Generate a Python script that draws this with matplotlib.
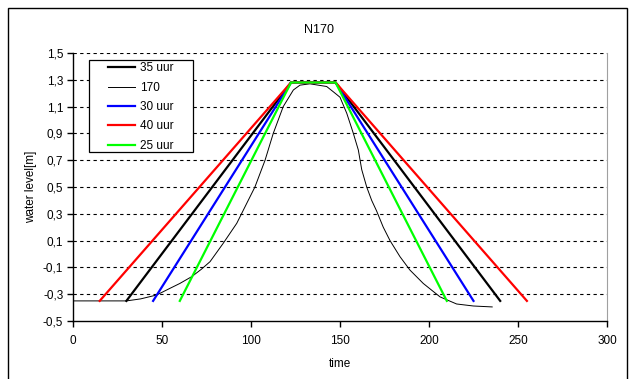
# Water level scenarios N170: design hydrographs vs measured event

import matplotlib.pyplot as plt
import matplotlib.patches as patches
from matplotlib.ticker import FuncFormatter

plt.rcParams['font.family'] = ['Liberation Sans', 'DejaVu Sans']

# measured event "170"
time_170 = [0, 20, 30, 38, 47, 54.5, 60, 66.7, 72, 77, 84.4, 92, 97.6, 102.2, 107.9,
            112.5, 118.1, 123.8, 127.5, 133.1, 137.8, 142.5, 146.3, 150, 153.8, 157.5,
            160.3, 162.2, 165, 167.8, 170.6, 174.3, 178.1, 183.7, 189.3, 196.8, 206.2,
            215.5, 224.9, 235.5]
level_170 = [-0.35, -0.35, -0.35, -0.335, -0.306, -0.256, -0.22, -0.169, -0.115, -0.057,
             0.08, 0.229, 0.378, 0.50, 0.70, 0.90, 1.10, 1.224, 1.26, 1.27, 1.26, 1.25,
             1.21, 1.17, 1.05, 0.90, 0.776, 0.63, 0.50, 0.40, 0.32, 0.20, 0.10, -0.02,
             -0.12, -0.22, -0.32, -0.373, -0.388, -0.395]

# trapezoid scenarios: start, top start, top end, end
time_35 = [30, 122.5, 147.5, 240]
time_30 = [45, 122.5, 147.5, 225]
time_40 = [15, 122.5, 147.5, 255]
time_25 = [60, 122.5, 147.5, 210]
level_trap = [-0.35, 1.28, 1.28, -0.35]


def comma(v, pos):
    return ('%.1f' % v).replace('.', ',')


def main():
    fig = plt.figure(figsize=(6.29, 3.79), dpi=100)
    ax = fig.add_axes([73 / 629, 1 - 321 / 379, 534 / 629, 268 / 379])

    ax.plot(time_35, level_trap, color='black', lw=1.6, label='35 uur')
    ax.plot(time_170, level_170, color='black', lw=0.7, label='170')
    ax.plot(time_30, level_trap, color='#0000ff', lw=1.6, label='30 uur')
    ax.plot(time_40, level_trap, color='#ff0000', lw=1.6, label='40 uur')
    ax.plot(time_25, level_trap, color='#00ff00', lw=1.6, label='25 uur')

    ax.set_xlim(0, 300)
    ax.set_ylim(-0.5, 1.5)
    ax.set_xticks(range(0, 301, 50))
    ax.set_yticks([-0.5 + 0.2 * i for i in range(11)])
    ax.yaxis.set_major_formatter(FuncFormatter(comma))
    for i in range(1, 11):
        ax.axhline(-0.5 + 0.2 * i, color='black', lw=0.8, ls=(0, (3, 3)), zorder=0)

    ax.spines['top'].set_visible(False)
    ax.spines['right'].set_color('#a0a0a0')
    ax.spines['right'].set_linewidth(0.8)
    ax.spines['left'].set_linewidth(1.0)
    ax.spines['bottom'].set_linewidth(1.0)
    ax.tick_params(direction='out', length=4, width=1, labelsize=8.5, pad=3)
    ax.tick_params(axis='x', pad=6)

    ax.set_xlabel('time', fontsize=8.5, labelpad=8)
    ax.set_ylabel('water level[m]', fontsize=8.5, labelpad=4)
    fig.text(0.507, 1 - 30 / 379, 'N170', ha='center', va='center', fontsize=9)

    # legend box, Excel style
    ax.add_patch(patches.Rectangle((0.030, 0.632), 0.195, 0.342, transform=ax.transAxes,
                                   fill=True, facecolor='white', edgecolor='black',
                                   lw=0.9, zorder=4))
    leg = ax.legend(loc='upper left', bbox_to_anchor=(0.065, 0.965), frameon=False,
                    borderpad=0, fontsize=8.5, handlelength=2.3, handletextpad=0.4,
                    labelspacing=0.62, borderaxespad=0)
    leg.set_zorder(5)

    # chart area border
    fig.patches.append(patches.Rectangle((8 / 629, -0.01), 619 / 629, 1.01 - 8 / 379,
                                         transform=fig.transFigure, fill=False,
                                         edgecolor='black', lw=1.0))

    fig.savefig('out.png', dpi=100)


if __name__ == '__main__':
    main()
